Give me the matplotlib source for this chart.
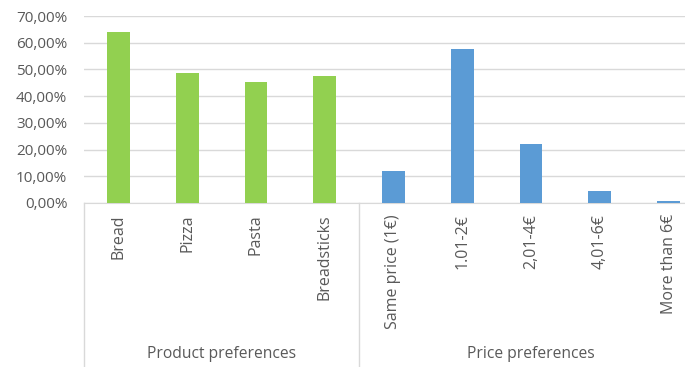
import matplotlib
matplotlib.use("Agg")
from matplotlib import pyplot as plt
from matplotlib.ticker import FuncFormatter
import numpy as np

plt.rcParams['font.family'] = ['Open Sans', 'DejaVu Sans']

# product group
products = ["Bread", "Pizza", "Pasta", "Breadsticks"]
product_share = [0.639, 0.487, 0.453, 0.475]
# price group
prices = ["Same price (1€)", "1.01-2€", "2,01-4€", "4,01-6€", "More than 6€"]
price_share = [0.119, 0.576, 0.221, 0.046, 0.006]
groups = ["Product preferences", "Price preferences"]

text_color = "#595959"
grid_color = "#d9d9d9"

fig = plt.figure(figsize=(6.85, 3.67), dpi=100)
# plot area runs a little past the right edge of the figure
ax = fig.add_axes([84 / 685, 164 / 367, 619 / 685, 187 / 367])

x_prod = np.arange(len(products))
x_price = np.arange(len(prices)) + len(products)
ax.bar(x_prod, product_share, width=0.33, color="#92d050", zorder=3)
ax.bar(x_price, price_share, width=0.33, color="#5b9bd5", zorder=3)

ax.set_xlim(-0.5, len(products) + len(prices) - 0.5)
ax.set_ylim(0, 0.70)
ax.set_yticks(np.arange(0, 0.71, 0.10))
ax.yaxis.set_major_formatter(FuncFormatter(lambda v, p: ("%.2f%%" % (v * 100)).replace(".", ",")))
ax.grid(axis="y", color=grid_color, linewidth=1, zorder=0)

for s in ["top", "right", "left"]:
    ax.spines[s].set_visible(False)
ax.spines["bottom"].set_color(grid_color)

ax.set_xticks(list(x_prod) + list(x_price))
ax.set_xticklabels(products + prices, rotation=90, ha="center", va="top")
ax.tick_params(axis="x", length=0, pad=8, labelsize=11.5, labelcolor=text_color)
ax.tick_params(axis="y", length=0, pad=12, labelsize=11, labelcolor=text_color)

# group dividers below the axis
trans = ax.get_xaxis_transform()
for xv in [-0.5, len(products) - 0.5]:
    ax.plot([xv, xv], [0, -0.9], color=grid_color, linewidth=1,
            transform=trans, clip_on=False)

ax.text((len(products) - 1) / 2, -0.807, groups[0], transform=trans,
        ha="center", va="center", fontsize=11.25, color=text_color)
ax.text(x_price.mean(), -0.807, groups[1], transform=trans,
        ha="center", va="center", fontsize=11.25, color=text_color)

plt.savefig("out.png", dpi=100)
